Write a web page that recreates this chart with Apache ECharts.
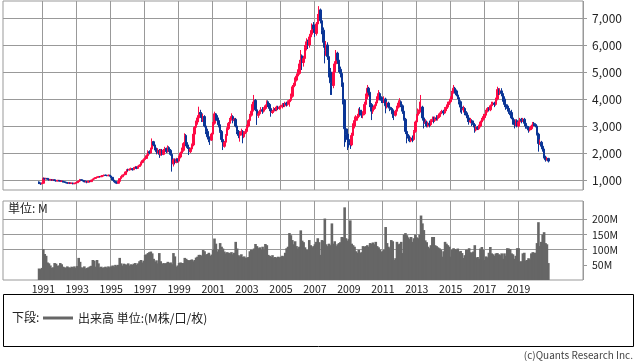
<!DOCTYPE html>
<html><head><meta charset="utf-8">
<script src="https://cdn.jsdelivr.net/npm/echarts@6/dist/echarts.min.js"></script>
<style>html,body{margin:0;padding:0;background:#fff}#c{width:638px;height:362px}</style>
</head><body><div id="c"></div>
<script>
// axis runs monthly from Sep 1988 to Oct 2022; data monthly from Oct 1990 to Oct 2020
const axisStart = [1988, 9];
const axisEnd = [2022, 10];
const dataStart = [1990, 10];
const yearLabels = [1991,1993,1995,1997,1999,2001,2003,2005,2007,2009,2011,2013,2015,2017,2019];
const priceTicks = [1000,2000,3000,4000,5000,6000,7000];
const volumeTicks = [50,100,150,200];
const firstOpen = 930;

const closes = [
 890,860,880,
 1060,1040,1060,1030,1000,1020,990,1010,980,960,990,970,
 950,960,930,920,900,880,900,870,890,860,880,900,
 940,960,1010,990,970,930,950,920,960,940,1000,1030,
 1060,1090,1100,1130,1120,1150,1160,1180,1170,1160,1180,1150,
 1100,1000,950,900,880,950,1050,1120,1180,1200,1300,1380,
 1370,1400,1420,1380,1450,1480,1430,1500,1550,1650,1720,1760,
 1800,1900,2050,2000,2150,2420,2300,2150,2050,2100,1950,2100,
 1950,2100,2170,2050,2200,2100,1950,1600,1750,1650,1780,1700,
 1850,2000,2100,2350,2650,2300,2200,2050,2150,2300,2700,2950,
 3150,3300,3500,3450,3250,3350,3000,2800,2600,2500,2480,2700,
 3100,3450,3300,3200,3050,2800,2500,2250,2400,2650,2900,3100,
 3250,3350,3200,3250,3000,2800,2650,2750,2800,2600,2750,2800,
 3000,3200,3400,3550,3800,3950,3600,3400,3450,3550,3600,3550,
 3650,3750,3900,3800,3650,3500,3550,3650,3600,3700,3650,3700,
 3720,3780,3750,3850,3800,3900,3950,4100,4450,4500,4700,4850,
 4950,5300,5600,5350,5500,5900,6120,6000,6300,6400,6740,6600,
 6430,6780,7000,7300,6900,6550,6100,5800,6000,5570,5000,4600,
 4500,5000,5300,5700,5440,5100,4950,4600,3960,2900,2700,2500,
 2400,2300,2650,3000,3200,3300,3350,3590,3500,3400,3450,3800,
 4100,4400,4250,3800,3550,3650,3750,3850,4000,4200,4050,3950,
 3900,4000,3750,3850,3700,3650,3600,3450,3400,3550,3700,3850,
 3900,3750,3550,3250,2800,2600,2550,2450,2550,2500,2800,3150,
 3400,3550,3600,3700,3300,3100,3150,3000,3100,3050,3200,3250,
 3200,3300,3280,3350,3450,3500,3550,3480,3650,3700,3850,3900,
 4000,4250,4400,4300,4150,4050,3900,3700,3600,3650,3450,3400,
 3300,3150,3200,3100,3050,2850,2950,2900,3000,3150,3250,3350,
 3400,3550,3650,3600,3750,3800,3850,3800,4000,4350,4250,4300,
 4200,4000,3800,3700,3650,3550,3500,3300,3150,3050,3200,3000,
 3150,3250,3200,3250,3100,3000,2950,2850,2900,3000,3100,3050,
 3000,2700,2350,2400,2250,2150,1850,1750,1800,1700
];
const highs = [
 950,900,900,
 1100,1080,1080,1070,1040,1040,1030,1030,1020,990,1000,1000,
 990,980,970,950,930,920,920,910,900,900,900,920,
 950,980,1040,1020,1000,980,960,960,970,970,1010,1050,
 1080,1110,1130,1150,1150,1170,1180,1200,1200,1190,1200,1190,
 1170,1110,1020,970,920,960,1060,1140,1200,1230,1320,1400,
 1420,1430,1460,1440,1480,1520,1500,1530,1580,1680,1760,1800,
 1840,1950,2100,2100,2200,2540,2450,2330,2200,2180,2150,2150,
 2150,2150,2230,2200,2280,2250,2150,2000,1800,1800,1820,1800,
 1900,2050,2200,2400,2730,2700,2400,2250,2200,2350,2750,3000,
 3200,3400,3715,3600,3500,3450,3400,3100,2900,2700,2600,2750,
 3150,3530,3480,3400,3300,3150,2850,2550,2450,2700,2950,3150,
 3300,3470,3400,3300,3300,3050,2850,2800,2900,2850,2800,2900,
 3050,3250,3450,3650,3900,4150,4000,3700,3550,3600,3700,3700,
 3700,3800,3950,3950,3850,3700,3600,3700,3700,3750,3750,3750,
 3780,3850,3850,3900,3900,3950,4000,4200,4520,4600,4800,4950,
 5100,5450,5815,5650,5600,6000,6250,6200,6400,6550,6800,6850,
 6750,6850,7150,7440,7350,7000,6650,6300,6150,6100,5700,5150,
 4900,5100,5400,5815,5750,5500,5200,5000,4700,4000,3100,2900,
 2700,2550,2750,3100,3350,3400,3450,3650,3700,3600,3550,3900,
 4200,4520,4450,4300,3850,3700,3800,3900,4100,4330,4250,4100,
 4050,4100,4050,3900,3900,3800,3700,3650,3500,3600,3750,3950,
 4030,3950,3800,3600,3300,2900,2700,2650,2600,2650,2850,3200,
 3450,3650,3900,4150,3750,3400,3250,3200,3150,3200,3250,3350,
 3350,3350,3400,3400,3500,3550,3600,3600,3700,3800,3900,4000,
 4100,4300,4520,4450,4350,4250,4100,3950,3800,3750,3700,3550,
 3500,3350,3300,3250,3200,3100,3000,3000,3050,3200,3300,3450,
 3450,3600,3700,3700,3800,3900,3900,3900,4050,4455,4400,4400,
 4400,4300,4100,3900,3800,3750,3650,3600,3400,3250,3250,3250,
 3200,3300,3300,3300,3300,3150,3050,3000,2950,3050,3150,3150,
 3100,3050,2750,2500,2450,2300,2200,1900,1850,1820
];
const lows = [
 850,820,840,
 870,1020,1030,1010,980,990,970,980,960,940,950,950,
 930,940,910,900,880,860,870,850,860,840,850,870,
 890,920,950,970,950,920,910,880,910,920,930,990,
 1010,1040,1070,1090,1100,1110,1130,1140,1150,1140,1140,1130,
 1080,980,920,870,850,870,940,1030,1100,1160,1190,1280,
 1330,1350,1380,1350,1370,1430,1400,1420,1480,1530,1620,1690,
 1720,1780,1880,1950,1980,2100,2250,2100,1950,1980,1820,1900,
 1900,1920,2050,2000,2020,2050,1900,1310,1500,1580,1620,1650,
 1650,1800,1950,2050,2300,2250,2150,1925,2000,2100,2250,2650,
 2850,3050,3250,3300,3150,3150,2950,2700,2500,2400,2300,2450,
 2650,3050,3200,3100,2950,2750,2400,2110,2200,2350,2600,2850,
 3000,3200,3100,3150,2950,2700,2550,2420,2650,2360,2550,2700,
 2750,2950,3150,3350,3500,3750,3550,3040,3300,3400,3500,3450,
 3500,3600,3700,3700,3550,3345,3450,3500,3550,3550,3600,3600,
 3620,3650,3700,3700,3720,3750,3715,3900,4050,4350,4450,4650,
 4700,4900,5200,5075,5200,5400,5800,5850,5900,6150,6350,6450,
 6300,6350,6700,6900,6800,6400,5900,5320,5600,5450,4800,4150,
 4150,4400,4900,5200,5300,5000,4800,4450,3800,2230,2400,2110,
 2200,2150,2250,2600,2910,3100,3200,3300,3400,3300,3285,3400,
 3700,4000,4150,3700,3220,3450,3600,3700,3800,3950,3950,3850,
 3850,3850,3470,3650,3650,3550,3500,3300,3220,3350,3500,3650,
 3700,3700,3450,3200,2700,2360,2450,2400,2400,2400,2450,2750,
 3100,3350,3450,3500,3200,2910,3000,2950,2950,2950,3000,3150,
 3100,3150,3200,3200,3300,3400,3450,3400,3450,3550,3650,3780,
 3850,3950,4200,4200,4100,4000,3800,3500,3450,3500,3400,3300,
 3150,3050,3100,3000,2950,2750,2800,2850,2850,2950,3100,3200,
 3285,3300,3500,3550,3550,3700,3750,3700,3750,3950,4150,4150,
 4100,3900,3700,3600,3550,3450,3400,3250,3050,2910,3000,2950,
 2950,3100,3100,3150,3050,2900,2900,2750,2800,2850,2950,3000,
 2950,2650,2050,2300,2200,2050,1800,1680,1720,1650
];
// volume, millions
const volumes = [
 38,36,40,
 102,86,80,58,55,48,40,42,56,54,47,48,
 56,52,44,42,40,45,42,40,44,42,45,40,
 46,73,60,42,40,45,38,40,42,45,47,66,
 64,44,66,55,42,44,40,42,44,40,45,42,
 45,48,44,50,46,50,73,55,48,54,52,50,
 55,48,52,50,54,56,50,55,62,66,58,64,
 83,85,89,92,94,88,70,60,65,55,89,62,
 53,56,54,56,60,56,58,52,89,78,44,48,
 56,58,56,56,73,70,66,64,66,68,62,66,
 74,77,83,83,80,99,95,83,86,90,80,84,
 100,137,120,94,100,122,110,104,94,88,92,90,
 88,92,85,90,126,104,82,78,85,76,78,74,
 73,76,95,100,99,104,119,112,105,108,100,110,
 100,119,115,83,80,76,82,74,76,73,77,75,
 77,80,78,90,105,110,155,148,132,118,128,112,
 104,110,164,130,125,108,100,99,132,115,108,112,
 118,126,138,125,83,132,130,203,118,112,120,115,
 187,120,128,112,118,122,125,142,141,240,138,130,
 135,197,120,115,110,95,90,100,89,92,112,110,
 112,115,110,122,120,124,118,126,112,108,100,94,
 95,100,175,122,110,105,132,128,66,72,126,118,
 120,126,89,150,155,148,141,135,142,126,138,150,
 141,138,150,213,187,165,131,125,110,105,115,142,
 142,115,112,108,105,100,77,95,126,120,115,110,
 77,100,105,102,100,104,94,96,89,73,82,100,
 100,105,92,89,94,115,73,76,70,104,109,100,
 66,78,75,90,109,88,85,80,88,89,85,82,
 88,70,88,80,105,104,102,88,85,70,80,105,
 105,61,62,88,90,64,66,72,68,88,92,90,
 90,122,191,112,126,150,158,122,118,56
];

// ---- build axis categories & series data ----
const cats = [];
for (let y = axisStart[0], m = axisStart[1]; y < axisEnd[0] || (y === axisEnd[0] && m <= axisEnd[1]); ) {
  cats.push(y + '-' + m);
  m++; if (m > 12) { m = 1; y++; }
}
const offset = (dataStart[0] - axisStart[0]) * 12 + (dataStart[1] - axisStart[1]);
const candle = cats.map(() => ['-', '-', '-', '-']);
const vol = cats.map(() => '-');
for (let i = 0; i < closes.length; i++) {
  const o = i === 0 ? firstOpen : closes[i - 1];
  const c = closes[i];
  candle[offset + i] = [o, c, Math.min(lows[i], o, c), Math.max(highs[i], o, c)];
  vol[offset + i] = volumes[i];
}
function isYearTick(idx) {
  const parts = cats[idx].split('-');
  return +parts[1] === 1 && yearLabels.indexOf(+parts[0]) >= 0;
}
const gridColor = '#999999';
const font = "'Noto Sans CJK JP', 'Noto Sans', sans-serif";
const volName = '出来高 単位:(M株/口/枚)';

const chart = echarts.init(document.getElementById('c'), null, { renderer: 'canvas' });
chart.setOption({
  animation: false,
  textStyle: { fontFamily: font },
  grid: [
    { left: 3, right: 55, top: 1, height: 189, show: true, borderColor: gridColor, borderWidth: 1, backgroundColor: '#fff' },
    { left: 3, right: 55, top: 201, height: 79, show: true, borderColor: gridColor, borderWidth: 1, backgroundColor: '#fff' }
  ],
  xAxis: [
    { type: 'category', gridIndex: 0, data: cats, boundaryGap: true,
      axisLine: { show: false }, axisTick: { show: false }, axisLabel: { show: false },
      splitLine: { show: true, interval: isYearTick, lineStyle: { color: gridColor, width: 1 } } },
    { type: 'category', gridIndex: 1, data: cats, boundaryGap: true,
      axisLine: { show: false }, axisTick: { show: false },
      axisLabel: { show: true, interval: isYearTick, formatter: v => v.split('-')[0], fontSize: 10.5, color: '#222', margin: 4, fontFamily: font },
      splitLine: { show: true, interval: isYearTick, lineStyle: { color: gridColor, width: 1 } } }
  ],
  yAxis: [
    { type: 'value', gridIndex: 0, position: 'right', min: 630, max: 7630, splitNumber: 7,
      axisLine: { show: false },
      axisTick: { show: true, length: 4, customValues: priceTicks, lineStyle: { color: gridColor } },
      axisLabel: { customValues: priceTicks, formatter: v => v.toLocaleString('en-US'), fontSize: 12, color: '#222', margin: 9, fontFamily: font },
      splitLine: { show: true, lineStyle: { color: gridColor, width: 1 } } },
    { type: 'value', gridIndex: 1, position: 'right', min: 0, max: 261, splitNumber: 5,
      axisLine: { show: false },
      axisTick: { show: true, length: 4, customValues: volumeTicks, lineStyle: { color: gridColor } },
      axisLabel: { customValues: volumeTicks, formatter: v => v + 'M', fontSize: 10.5, color: '#222', margin: 9, fontFamily: font },
      splitLine: { show: true, lineStyle: { color: ['rgba(0,0,0,0)', gridColor, gridColor, gridColor, gridColor, 'rgba(0,0,0,0)', 'rgba(0,0,0,0)'], width: 1 } } }
  ],
  legend: {
    data: [{ name: volName, icon: 'rect' }], left: 43, top: 312, padding: 0,
    itemWidth: 30, itemHeight: 3, selectedMode: false,
    textStyle: { fontSize: 12, color: '#222', fontFamily: font }
  },
  graphic: [
    { type: 'rect', z: 1, shape: { x: 3.5, y: 294.5, width: 630, height: 52 }, style: { fill: '#fff', stroke: '#000', lineWidth: 1 } },
    { type: 'text', z: 5, left: 12, top: 311, style: { text: '下段:', fontSize: 12, fill: '#222', fontFamily: font } },
    { type: 'text', z: 5, left: 8, top: 202, style: { text: '単位: M', fontSize: 12, fill: '#222', fontFamily: font } },
    { type: 'text', z: 5, right: 5, top: 350, style: { text: '(c)Quants Research Inc.', fontSize: 10, fill: '#444', fontFamily: font } }
  ],
  series: [
    { type: 'candlestick', name: 'price', xAxisIndex: 0, yAxisIndex: 0, data: candle, barWidth: 2,
      itemStyle: { color: '#ff0a45', color0: '#0a3596', borderColor: '#ff0a45', borderColor0: '#0a3596', borderWidth: 1 } },
    { type: 'bar', name: volName, xAxisIndex: 1, yAxisIndex: 1, data: vol, barWidth: 2.6,
      itemStyle: { color: '#666666' } }
  ]
});
</script></body></html>
